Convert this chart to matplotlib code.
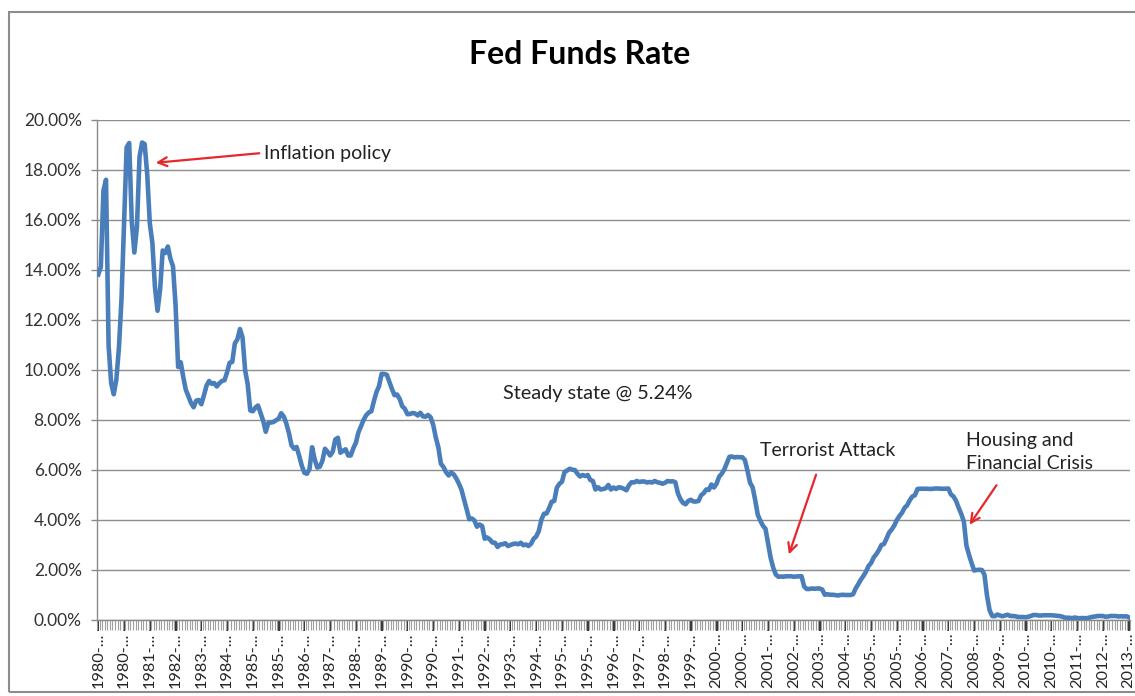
import matplotlib
matplotlib.use("Agg")
import matplotlib.pyplot as plt
from matplotlib.patches import Rectangle
from matplotlib.ticker import FuncFormatter, FixedLocator, MultipleLocator

# ---- data: monthly effective Fed Funds rate (%), Jan 1980 .. May 2013 ----
rates_1980s = [
    13.82, 14.13, 17.19, 17.61, 10.98, 9.47, 9.03, 9.61, 10.87, 12.81, 15.85, 18.90,
    19.08, 15.93, 14.70, 15.72, 18.52, 19.10, 19.04, 17.82, 15.87, 15.08, 13.31, 12.37,
    13.22, 14.78, 14.68, 14.94, 14.45, 14.15, 12.59, 10.12, 10.31, 9.71, 9.20, 8.95,
    8.68, 8.51, 8.77, 8.80, 8.63, 8.98, 9.37, 9.56, 9.45, 9.48, 9.34, 9.47,
    9.56, 9.59, 9.91, 10.29, 10.32, 11.06, 11.23, 11.64, 11.30, 9.99, 9.43, 8.38,
    8.35, 8.50, 8.58, 8.27, 7.97, 7.53, 7.88, 7.90, 7.92, 7.99, 8.05, 8.27,
    8.14, 7.86, 7.48, 6.99, 6.85, 6.92, 6.56, 6.17, 5.89, 5.85, 6.04, 6.91,
    6.43, 6.10, 6.13, 6.37, 6.85, 6.73, 6.58, 6.73, 7.22, 7.29, 6.69, 6.77,
    6.83, 6.58, 6.58, 6.87, 7.09, 7.51, 7.75, 8.01, 8.19, 8.30, 8.35, 8.76,
    9.12, 9.36, 9.85, 9.84, 9.81, 9.53, 9.24, 8.99, 9.02, 8.84, 8.55, 8.45,
]
rates_1990s = [
    8.23, 8.24, 8.28, 8.26, 8.18, 8.29, 8.15, 8.13, 8.20, 8.11, 7.81, 7.31,
    6.91, 6.25, 6.12, 5.91, 5.78, 5.90, 5.82, 5.66, 5.45, 5.21, 4.81, 4.43,
    4.03, 4.06, 3.98, 3.73, 3.82, 3.76, 3.25, 3.30, 3.22, 3.10, 3.09, 2.92,
    3.02, 3.03, 3.07, 2.96, 3.00, 3.04, 3.06, 3.03, 3.09, 2.99, 3.02, 2.96,
    3.05, 3.25, 3.34, 3.56, 4.01, 4.25, 4.26, 4.47, 4.73, 4.76, 5.29, 5.45,
    5.53, 5.92, 5.98, 6.05, 6.01, 6.00, 5.85, 5.74, 5.80, 5.76, 5.80, 5.60,
    5.56, 5.22, 5.31, 5.22, 5.24, 5.27, 5.40, 5.22, 5.30, 5.24, 5.31, 5.29,
    5.25, 5.19, 5.39, 5.51, 5.50, 5.56, 5.52, 5.54, 5.54, 5.50, 5.52, 5.50,
    5.56, 5.51, 5.49, 5.45, 5.49, 5.56, 5.54, 5.55, 5.51, 5.07, 4.83, 4.68,
    4.63, 4.76, 4.81, 4.74, 4.74, 4.76, 4.99, 5.07, 5.22, 5.20, 5.42, 5.30,
]
rates_2000s = [
    5.45, 5.73, 5.85, 6.02, 6.27, 6.53, 6.54, 6.50, 6.52, 6.51, 6.51, 6.40,
    5.98, 5.49, 5.31, 4.80, 4.21, 3.97, 3.77, 3.65, 3.07, 2.49, 2.09, 1.82,
    1.73, 1.74, 1.73, 1.75, 1.75, 1.75, 1.73, 1.74, 1.75, 1.75, 1.34, 1.24,
    1.24, 1.26, 1.25, 1.26, 1.26, 1.22, 1.01, 1.03, 1.01, 1.01, 1.00, 0.98,
    1.00, 1.01, 1.00, 1.00, 1.00, 1.03, 1.26, 1.43, 1.61, 1.76, 1.93, 2.16,
    2.28, 2.50, 2.63, 2.79, 3.00, 3.04, 3.26, 3.50, 3.62, 3.78, 4.00, 4.16,
    4.29, 4.49, 4.59, 4.79, 4.94, 4.99, 5.24, 5.25, 5.25, 5.25, 5.25, 5.24,
    5.25, 5.26, 5.26, 5.25, 5.25, 5.25, 5.26, 5.02, 4.94, 4.76, 4.49, 4.24,
    3.94, 2.98, 2.61, 2.28, 1.98, 2.00, 2.01, 2.00, 1.81, 0.97, 0.39, 0.16,
    0.15, 0.22, 0.18, 0.15, 0.18, 0.21, 0.16, 0.16, 0.15, 0.12, 0.12, 0.12,
]
rates_2010s = [
    0.11, 0.13, 0.16, 0.20, 0.20, 0.18, 0.18, 0.19, 0.19, 0.19, 0.19, 0.18,
    0.17, 0.16, 0.14, 0.10, 0.09, 0.09, 0.07, 0.10, 0.08, 0.07, 0.08, 0.07,
    0.08, 0.10, 0.13, 0.14, 0.16, 0.16, 0.16, 0.13, 0.14, 0.16, 0.16, 0.16,
    0.14, 0.15, 0.14, 0.15, 0.11,
]
rates = rates_1980s + rates_1990s + rates_2000s + rates_2010s

# category tick labels (every 10th month, truncated as in Excel)
tick_years = [1980, 1980, 1981, 1982, 1983, 1984, 1985, 1985, 1986, 1987, 1988,
              1989, 1990, 1990, 1991, 1992, 1993, 1994, 1995, 1995, 1996, 1997,
              1998, 1999, 2000, 2000, 2001, 2002, 2003, 2004, 2005, 2005, 2006,
              2007, 2008, 2009, 2010, 2010, 2011, 2012, 2013]
tick_labels = [f"{y}-..." for y in tick_years]

title = "Fed Funds Rate"

W, H = 1135, 696
fig = plt.figure(figsize=(W / 100, H / 100), dpi=100)
plt.rcParams['font.family'] = ['Lato', 'DejaVu Sans']

# outer chart frame
fig.patches.append(Rectangle((9 / W, 1 - 692 / H), (W + 20) / W, (692 - 12) / H,
                             transform=fig.transFigure, fill=False,
                             edgecolor='#8c8c8c', linewidth=1.5, zorder=0))

L, R, T, B = 97, 1130, 120, 620
ax = fig.add_axes([L / W, 1 - B / H, (R - L) / W, (B - T) / H])

x = list(range(len(rates)))
ax.plot(x, rates, color='#4a7ebb', linewidth=3.3, solid_joinstyle='round', zorder=3)

ax.set_xlim(-0.5, len(rates) - 0.5)
ax.set_ylim(0, 20)
ax.yaxis.set_major_locator(MultipleLocator(2))
ax.yaxis.set_major_formatter(FuncFormatter(lambda v, p: f"{v:.2f}%"))
ax.grid(axis='y', color='#8e8e8e', linewidth=1.0, zorder=1)
ax.set_axisbelow(True)

major_pos = [i * 10 for i in range(len(tick_labels))]
ax.xaxis.set_major_locator(FixedLocator(major_pos))
ax.set_xticklabels(tick_labels, rotation=90, fontsize=11.8, color='#262626')
ax.xaxis.set_minor_locator(FixedLocator([i + 0.5 for i in range(-1, len(rates))]))
ax.tick_params(axis='x', which='major', length=8, width=1.3, color='#222222', pad=1,
               direction='out')
ax.tick_params(axis='x', which='minor', length=7, width=0.8, color='#a0a0a0',
               direction='out')
ax.tick_params(axis='y', which='major', length=4, width=1.0, color='#8a8a8a',
               labelsize=12.5, labelcolor='#333333', pad=7)

for s in ['top', 'right']:
    ax.spines[s].set_visible(False)
ax.spines['left'].set_color('#8a8a8a')
ax.spines['bottom'].set_color('#8a8a8a')
ax.spines['left'].set_linewidth(1.0)
ax.spines['bottom'].set_linewidth(1.0)

fig.text(580 / W, 1 - 54 / H, title, ha='center', va='center', fontsize=23,
         fontweight='bold', color='black')

def px(xp, yp):
    return (xp / W, 1 - yp / H)

FS = 14
arrow_kw = dict(arrowstyle='->', color='#e8262b', lw=1.6, mutation_scale=16)

fig.text(*px(264, 153), "Inflation policy", va='center', ha='left', fontsize=FS, color='#222222')
ax.annotate('', xy=px(153, 163), xycoords='figure fraction',
            xytext=px(262, 153), textcoords='figure fraction', arrowprops=arrow_kw)

fig.text(*px(503, 393), "Steady state @ 5.24%", va='center', ha='left', fontsize=FS + 0.3, color='#222222')

fig.text(*px(760, 450), "Terrorist Attack", va='center', ha='left', fontsize=FS, color='#222222')
ax.annotate('', xy=px(788, 557), xycoords='figure fraction',
            xytext=px(817, 472), textcoords='figure fraction', arrowprops=arrow_kw)

fig.text(*px(966, 452), "Housing and\nFinancial Crisis", va='center', ha='left',
         fontsize=FS, color='#222222', linespacing=1.4)
ax.annotate('', xy=px(968, 527), xycoords='figure fraction',
            xytext=px(998, 483), textcoords='figure fraction', arrowprops=arrow_kw)

fig.savefig("out.png", dpi=100, facecolor='white')
